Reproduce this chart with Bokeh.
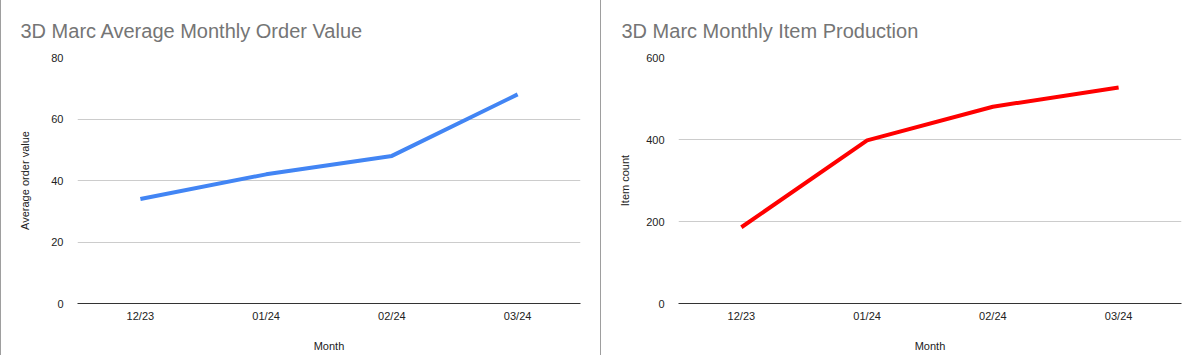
from bokeh.plotting import figure
from bokeh.models import FixedTicker, Div, Title
from bokeh.layouts import row
from bokeh.embed import file_html
from bokeh.resources import INLINE

months = ["12/23", "01/24", "02/24", "03/24"]
avg_order_value = [34, 42, 48, 68]
item_count = [186, 398, 480, 527]

left_title = "3D Marc Average Monthly Order Value"
right_title = "3D Marc Monthly Item Production"
left_ylabel = "Average order value"
right_ylabel = "Item count"
xlabel = "Month"
left_ticks = [0, 20, 40, 60, 80]
right_ticks = [0, 200, 400, 600]

FONT = "Liberation Sans"


def make_fig(width, ml, mr, ymax, ticks, ylabel, title, color, values, label_standoff):
    p = figure(width=width, height=355, x_range=months, y_range=(0, ymax),
               output_backend="svg", toolbar_location=None,
               min_border_left=ml, min_border_right=mr,
               min_border_top=57, min_border_bottom=52)
    p.x_range.range_padding = 0
    p.outline_line_color = None
    p.background_fill_color = "white"
    p.border_fill_color = "white"

    t = Title(text=title, align="left", text_font=FONT, text_font_size="20px",
              text_font_style="normal", text_color="#757575", offset=-57, standoff=31)
    p.add_layout(t, "above")

    p.line(x=months, y=values, line_color=color, line_width=4)

    p.xgrid.grid_line_color = None
    p.ygrid.grid_line_color = "#cccccc"
    p.ygrid.ticker = FixedTicker(ticks=ticks)

    ya = p.yaxis[0]
    ya.ticker = FixedTicker(ticks=ticks)
    ya.axis_line_color = None
    ya.major_tick_line_color = None
    ya.minor_tick_line_color = None
    ya.major_label_standoff = 8
    ya.major_label_text_font = FONT
    ya.major_label_text_font_size = "11px"
    ya.major_label_text_color = "#222222"
    ya.axis_label = ylabel
    ya.axis_label_text_font = FONT
    ya.axis_label_text_font_size = "11px"
    ya.axis_label_text_font_style = "normal"
    ya.axis_label_text_color = "#222222"
    ya.axis_label_standoff = label_standoff

    xa = p.xaxis[0]
    xa.axis_line_color = "#333333"
    xa.axis_line_width = 1
    xa.major_tick_line_color = None
    xa.minor_tick_line_color = None
    xa.major_label_standoff = 0
    xa.major_label_text_font = FONT
    xa.major_label_text_font_size = "11px"
    xa.major_label_text_color = "#222222"
    xa.axis_label = xlabel
    xa.axis_label_text_font = FONT
    xa.axis_label_text_font_size = "11px"
    xa.axis_label_text_font_style = "normal"
    xa.axis_label_text_color = "#222222"
    xa.axis_label_standoff = 15
    return p


p1 = make_fig(599, 76, 20, 80, left_ticks, left_ylabel, left_title, "#4285F4", avg_order_value, 17)
p2 = make_fig(597, 77, 17, 600, right_ticks, right_ylabel, right_title, "#FF0000", item_count, 12)

b1 = Div(width=1, height=355, margin=0, styles={"background-color": "#9e9e9e"})
b2 = Div(width=1, height=355, margin=0, styles={"background-color": "#9e9e9e"})

layout = row(b1, p1, b2, p2, spacing=0, margin=0)

open("out.html", "w").write(file_html(layout, INLINE))
